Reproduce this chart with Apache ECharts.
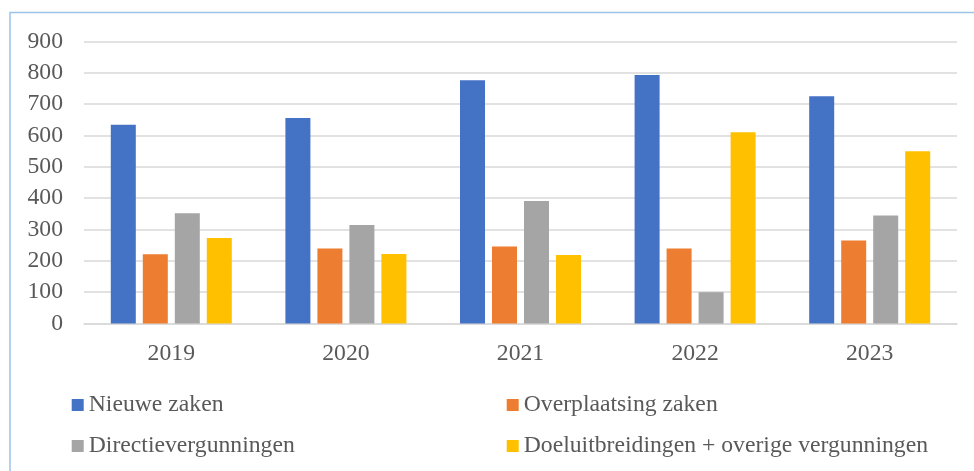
<!DOCTYPE html>
<html>
<head>
<meta charset="utf-8">
<script src="https://cdn.jsdelivr.net/npm/echarts@6/dist/echarts.min.js"></script>
<style>
  html, body { margin: 0; padding: 0; background: #fff; }
  #chart { width: 974px; height: 471px; }
</style>
</head>
<body>
<div id="chart"></div>
<script>
// Jaren op de x-as
const years = ['2019', '2020', '2021', '2022', '2023'];

// Aantallen per reeks
const nieuweZaken = [634, 656, 776, 793, 725];
const overplaatsingZaken = [221, 239, 246, 239, 265];
const directievergunningen = [352, 314, 391, 100, 345];
const doeluitbreidingen = [273, 222, 219, 610, 550];

const seriesNames = [
  'Nieuwe zaken',
  'Overplaatsing zaken',
  'Directievergunningen',
  'Doeluitbreidingen + overige vergunningen'
];
const seriesValues = [nieuweZaken, overplaatsingZaken, directievergunningen, doeluitbreidingen];
const colors = ['#4472C4', '#ED7D31', '#A5A5A5', '#FFC000'];

const font = '"Liberation Serif", "Times New Roman", serif';
const textColor = '#595959';

const chart = echarts.init(document.getElementById('chart'));

const legendText = { fontFamily: font, fontSize: 23.7, color: textColor };

chart.setOption({
  animation: false,
  color: colors,
  graphic: [{
    type: 'rect',
    shape: { x: 10, y: 12.5, width: 1000, height: 600 },
    style: { fill: 'none', stroke: '#9DC3E6', lineWidth: 1.5 },
    silent: true
  }],
  grid: { left: 84, right: 17, top: 41.5, height: 282, containLabel: false },
  legend: [
    {
      orient: 'vertical', left: 71.7, top: 393, itemGap: 17, padding: 0,
      itemWidth: 12, itemHeight: 12, icon: 'rect',
      data: [seriesNames[0], seriesNames[2]],
      textStyle: legendText
    },
    {
      orient: 'vertical', left: 506.7, top: 393, itemGap: 17, padding: 0,
      itemWidth: 12, itemHeight: 12, icon: 'rect',
      data: [seriesNames[1], seriesNames[3]],
      textStyle: legendText
    }
  ],
  xAxis: {
    type: 'category',
    data: years,
    axisTick: { show: false },
    axisLine: { lineStyle: { color: '#D9D9D9', width: 1.5 } },
    axisLabel: { fontFamily: font, fontSize: 23.7, color: textColor, margin: 18 }
  },
  yAxis: {
    type: 'value',
    min: 0, max: 900, interval: 100,
    axisLine: { show: false },
    axisTick: { show: false },
    splitLine: { lineStyle: { color: '#D9D9D9', width: 1.5 } },
    axisLabel: { fontFamily: font, fontSize: 23.7, color: textColor, margin: 21 }
  },
  series: seriesNames.map((name, i) => ({
    name: name,
    type: 'bar',
    data: seriesValues[i],
    barWidth: 25,
    barGap: '28%',
    itemStyle: { color: colors[i] }
  }))
});
</script>
</body>
</html>
